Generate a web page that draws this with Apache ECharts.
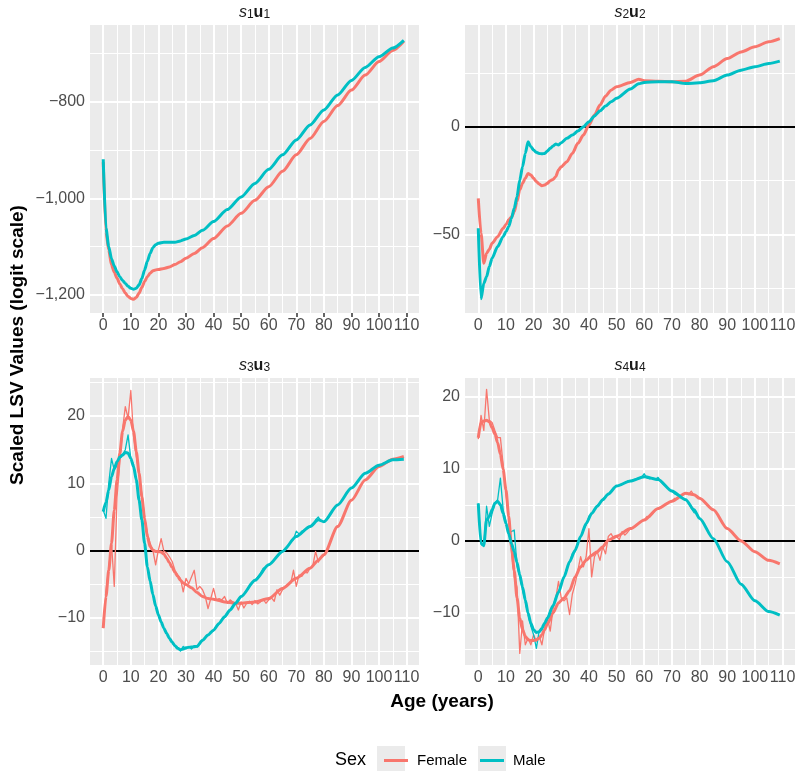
<!DOCTYPE html>
<html>
<head>
<meta charset="utf-8">
<script src="https://cdn.jsdelivr.net/npm/echarts@6/dist/echarts.min.js"></script>
<style>
html,body{margin:0;padding:0;background:#fff;}
#chart{width:800px;height:771px;}
</style>
</head>
<body>
<div id="chart"></div>
<script>
// ---------------- DATA ----------------
const xTicks = [0,10,20,30,40,50,60,70,80,90,100,110];
const sexes = ['Female','Male'];
const panelTitles = ['{s|s}{n|1}{u|u}{n|1}','{s|s}{n|2}{u|u}{n|2}','{s|s}{n|3}{u|u}{n|3}','{s|s}{n|4}{u|u}{n|4}'];

// Panel 1 (s1u1) smoothed curves
const p1Ages = [0,1,2,3,4,5,6,7,8,9,10,11,12,13,14,15,16,17,18,19,20,22,24,26,28,30,33,36,40,45,50,55,60,65,70,75,80,85,90,95,100,105,109];
const p1Female = [-925,-1070,-1107,-1138,-1153,-1165,-1177,-1187,-1196,-1203,-1207,-1209,-1205,-1196,-1184,-1172,-1162,-1155,-1150,-1148,-1147,-1145,-1142,-1137,-1131,-1124,-1114,-1102,-1083,-1057,-1031,-1004,-976,-944,-910,-876,-841,-808,-776,-745,-717,-694,-675];
const p1Male = [-919,-1062,-1100,-1125,-1140,-1152,-1162,-1170,-1176,-1182,-1186,-1188,-1186,-1179,-1166,-1148,-1130,-1114,-1102,-1096,-1093,-1091,-1091,-1091,-1088,-1084,-1077,-1066,-1048,-1023,-997,-969,-940,-910,-879,-848,-817,-786,-756,-729,-707,-689,-673];
const p1YTicks = [-1200,-1000,-800];

// Panel 2 (s2u2) smoothed curves
const p2Ages = [0,1,2,3,4,5,7,9,10,11,12,13,14,15,16,17,18,19,20,21,22,23,24,25,26,27,28,29,30,32,34,36,38,40,42,44,46,48,50,55,58,60,65,70,75,80,85,90,95,100,105,109];
const p2Female = [-33.3,-49.5,-63.5,-58.8,-57,-54.2,-51.1,-47.2,-45.5,-43.3,-42,-39.5,-34.8,-29.4,-26.3,-24,-21.7,-22.4,-24,-25.5,-26.6,-27.4,-27.1,-26.3,-25.1,-24.5,-23.2,-20.1,-18.6,-16.3,-12.4,-7.7,-3.9,0.8,5.4,10.1,14.2,17,18.6,20.6,22.1,21.4,21.2,20.9,21.2,24,27.9,31.7,34.8,37.2,39.5,41];
const p2Male = [-47.2,-80,-72.8,-69.7,-65,-61.1,-55.7,-51.1,-48.8,-46.4,-42.6,-37.9,-32.5,-24.8,-18.6,-12.4,-7,-9.3,-10.8,-11.9,-12.4,-12.6,-12.4,-11.3,-10,-9,-8,-8.5,-7.4,-5.4,-3.9,-2,0,2.3,5,7.4,9.6,11.6,13.2,17.5,20,20.6,20.9,20.9,20.1,20.4,21.4,24,26.3,27.9,29.4,30.5];
const p2YTicks = [-50,0];

// Panel 3 (s3u3) smoothed curves
const p3Ages = [0,1,2,3,4,5,6,7,8,9,10,11,12,13,14,15,16,17,18,19,20,21,22,23,24,25,26,27,28,29,30,32,34,36,38,40,42,44,46,48,50,55,60,65,70,75,78,80,85,90,95,100,105,109];
const p3Female = [-11.5,-6.8,-2.9,1.1,6,10.5,14.5,17.7,19.4,19.9,19.4,17.7,14.7,11.5,8,4.8,2.1,0.6,0.1,-0.1,-0.1,-0.2,-0.5,-1.1,-1.8,-2.5,-3.2,-3.8,-4.4,-4.8,-5,-5.5,-6.2,-6.8,-7.1,-7.2,-7.4,-7.6,-7.7,-7.8,-7.8,-7.6,-7.1,-5.6,-4.1,-2.6,-1.4,-0.6,3.6,7.5,10.5,12.5,13.6,14];
const p3Male = [5.8,7.2,9,11,12.2,13.2,13.9,14.2,14.6,14.5,13.7,12.5,10.5,7.5,4.6,1.1,-2.4,-4.5,-6.5,-8.2,-9.5,-10.6,-11.5,-12.3,-13,-13.6,-14.1,-14.5,-14.7,-14.6,-14.4,-14.3,-14.2,-13.3,-12.5,-11.8,-10.8,-9.8,-8.8,-7.8,-6.8,-4.4,-2.1,-0.1,2.1,3.6,4.6,4.3,6.8,9.3,11.5,12.7,13.5,13.6];
// Panel 3 raw yearly values, ages 0..80
const p3RawFemale = [-11.5,-6,-2.5,1.1,-5.3,8,13,18,21.4,19.7,23.8,17,14,11.5,8.5,5,2.6,1.1,0.1,-2.1,0.1,1.8,-0.1,-0.3,-0.9,-1.6,-2.9,-3.6,-4.1,-6.1,-4.1,-4.9,-3.9,-2.9,-5.8,-5.3,-5.8,-6.8,-8.6,-7.1,-5.6,-7.3,-7.1,-7.3,-6.8,-7.8,-7.3,-7.6,-7.8,-8.8,-7.6,-8.5,-7.8,-7.5,-8,-7.4,-7.9,-7.6,-7.2,-7.8,-7.3,-7,-7.5,-5.8,-6.6,-5.8,-5.4,-5,-4.8,-2.9,-5.3,-3.6,-3.8,-3.2,-3.3,-2.6,-2.2,-0.1,-1.7,-0.9,-0.7];
const p3RawMale = [6,4.8,10,13.7,12,12.7,13.7,14.2,15,17.2,13.7,12.8,10.3,7.6,4.4,1.3,-2.5,-4.4,-6.6,-8.1,-9.6,-10.5,-11.6,-12.2,-13.1,-13.5,-14.2,-14.4,-14.9,-14.2,-14.6,-14.2,-14.6,-14.1,-14.3,-13.7,-13.4,-12.9,-12.6,-12,-11.9,-11.2,-10.9,-10.2,-9.9,-9.3,-8.9,-8.3,-7.8,-7.3,-6.8,-6.4,-5.9,-5.3,-4.9,-4.4,-3.9,-3.4,-2.6,-2.4,-2.1,-1.7,-1.3,-0.9,-0.5,-0.1,0.4,0.8,1.3,1.7,2.9,2.5,2.9,3.1,3.3,3.5,3.9,4.6,5,4.4,4.3];
const p3YTicks = [-10,0,10,20];

// Panel 4 (s4u4) smoothed curves
const p4Ages = [0,1,2,3,4,5,6,7,8,9,10,11,12,13,14,15,16,17,18,19,20,21,22,23,24,25,27,29,31,33,35,37,39,41,43,45,47,50,55,60,65,70,75,78,80,85,90,95,100,105,109];
const p4Female = [14.3,16.4,16.6,16.7,16.5,15.7,14.8,13.6,12,9.9,7.1,3.4,-0.8,-4.1,-7.9,-10.7,-12.3,-13.2,-13.7,-13.8,-13.8,-13.7,-13.5,-13,-12.3,-11.5,-10,-8.6,-7.9,-6.9,-5,-3.6,-2.7,-2,-1.5,-0.8,0.1,0.65,1.7,2.9,4.5,5.5,6.6,6.4,5.9,4.3,1.7,0,-1.5,-2.7,-3.2];
const p4Male = [5.2,-0.4,-0.6,2.9,3.4,4.3,5.2,5.5,5,3.8,2.4,1,-0.4,-1.5,-3,-4.7,-6.4,-8.2,-10,-11.4,-12.3,-12.7,-12.6,-12.1,-11.4,-10.7,-9,-7.1,-5,-2.9,-1.3,0.6,2.4,3.8,4.8,5.7,6.5,7.6,8.3,8.9,8.5,6.9,5.7,4.3,3.1,0.3,-2.9,-6,-8.3,-9.8,-10.3];
// Panel 4 raw yearly values, ages 0..80
const p4RawFemale = [14.1,17.4,15.3,21,16.7,16.4,15.3,14.3,14.3,10.5,6.5,3,-1.5,-5,-6.4,-15.6,-11.1,-14.4,-13.5,-14.4,-13,-13.9,-13.2,-14.4,-12.1,-10.7,-12.5,-9.5,-8,-5.6,-7.9,-8.3,-7.9,-10.2,-7.4,-6,-4.1,-2.2,-3.6,-2.2,1.7,-5,-2.2,-1.5,-2.7,-0.8,-1.8,0.6,1,0.3,0.6,0.2,1.3,0.8,1.2,1.7,1.8,2.1,2.4,2.7,2.9,3.4,3.3,3.7,4.3,4.4,4.6,4.9,5.2,5.3,5.5,5.9,5.8,6.2,6.4,6.6,6.4,6.9,6.3,6.2,5.9];
const p4RawMale = [5.2,-0.4,-0.8,4.8,2,3.8,5.2,5.7,8.7,4.3,2.7,1,1.3,1.5,-3.5,-5,-6.8,-8.5,-10.2,-11.8,-13,-14.9,-12.5,-12.4,-11.3,-10.9,-9.6,-9.1,-7.8,-7.2,-5.9,-5.1,-3.8,-3,-1.8,-1.5,-0.2,0.5,1.5,2.2,3.4,3.7,4.3,4.9,5.2,5.8,6.1,6.4,6.8,7.4,7.6,7.7,7.9,8,8.3,8.3,8.5,8.6,8.7,8.8,9.3,8.7,8.6,8.7,8.5,8.8,8.2,7.8,7.5,7.2,6.9,6.5,6.3,6,5.9,5.7,5.3,4.5,3.9,3.8,3.1];
const p4YTicks = [-10,0,10,20];

// ---------------- LAYOUT / STYLE ----------------
const FONT = "'Liberation Sans', Arial, Helvetica, sans-serif";
const colors = {Female:'#F8766D', Male:'#00BFC4'};
const grids = [
  {left:90, top:25, width:329, height:288},
  {left:465, top:25, width:330, height:288},
  {left:90, top:378, width:329, height:287},
  {left:465, top:378, width:330, height:287}
];
const yRanges = [[-1237.2,-641.3],[-86.6,47.3],[-16.97,25.65],[-17.2,22.57]];
const yTickSets = [p1YTicks,p2YTicks,p3YTicks,p4YTicks];
const yMinorSets = [[-1100,-900,-700],[-75,-25,25],[-15,-5,5,15,25],[-15,-5,5,15]];
const xMinor = [5,15,25,35,45,55,65,75,85,95,105];
const zeroLine = [false,true,true,true];

const smoothSets = [
  [p1Ages,p1Female,p1Male],
  [p2Ages,p2Female,p2Male],
  [p3Ages,p3Female,p3Male],
  [p4Ages,p4Female,p4Male]
];
const rawSets = [null,null,[p3RawFemale,p3RawMale],[p4RawFemale,p4RawMale]];

function fmt(v){
  const s = Math.abs(v).toLocaleString('en-US');
  return (v<0?'\u2212':'') + s;
}
function pairs(ages, vals){ return ages.map((a,i)=>[a, vals[i]]); }
function yearly(vals){ return vals.map((v,i)=>[i, v]); }

const xAxes = [], yAxes = [], series = [];
grids.forEach((g,i)=>{
  xAxes.push({
    type:'value', gridIndex:i, min:-4.8, max:114.5,
    axisLine:{show:false}, splitLine:{show:false},
    axisTick:{show:true, customValues:xTicks, length:4, lineStyle:{color:'#333333', width:1.5}},
    axisLabel:{customValues:xTicks, color:'#4D4D4D', fontSize:16, fontFamily:FONT, margin:5}
  });
  yAxes.push({
    type:'value', gridIndex:i, min:yRanges[i][0], max:yRanges[i][1],
    axisLine:{show:false}, splitLine:{show:false},
    axisTick:{show:true, customValues:yTickSets[i], length:4, lineStyle:{color:'#333333', width:1.5}},
    axisLabel:{customValues:yTickSets[i], color:'#4D4D4D', fontSize:16, fontFamily:FONT, margin:5, formatter:fmt}
  });
  const minor = {color:'#FFFFFF', width:1, type:'solid'};
  const major = {color:'#FFFFFF', width:2, type:'solid'};
  const ml = [];
  yMinorSets[i].forEach(v=>ml.push({yAxis:v, lineStyle:minor}));
  xMinor.forEach(v=>ml.push({xAxis:v, lineStyle:minor}));
  yTickSets[i].forEach(v=>ml.push({yAxis:v, lineStyle:major}));
  xTicks.forEach(v=>ml.push({xAxis:v, lineStyle:major}));
  series.push({
    type:'line', name:'grid'+i, xAxisIndex:i, yAxisIndex:i, data:[], z:1, silent:true,
    markLine:{z:1, zlevel:0, silent:true, symbol:['none','none'], label:{show:false}, animation:false, data:ml}
  });
  if(zeroLine[i]){
    series.push({
      type:'line', name:'zero'+i, xAxisIndex:i, yAxisIndex:i, data:[], z:2, silent:true,
      markLine:{z:2, zlevel:0, silent:true, symbol:['none','none'], label:{show:false}, animation:false,
        data:[{yAxis:0, lineStyle:{color:'#000000', width:2, type:'solid'}}]}
    });
  }
  if(rawSets[i]){
    rawSets[i].forEach((vals,k)=>{
      series.push({
        type:'line', name:sexes[k]+' raw', xAxisIndex:i, yAxisIndex:i, data:yearly(vals),
        showSymbol:false, symbol:'none', z:3, silent:true,
        lineStyle:{color:colors[sexes[k]], width:1.3, join:'round'},
        itemStyle:{color:colors[sexes[k]]}
      });
    });
  }
  const [ages,f,m] = smoothSets[i];
  [f,m].forEach((vals,k)=>{
    series.push({
      type:'line', name:sexes[k], xAxisIndex:i, yAxisIndex:i, data:pairs(ages,vals),
      showSymbol:false, symbol:'none', z:4, silent:true, smooth:0.25, smoothMonotone:'x',
      lineStyle:{color:colors[sexes[k]], width:3, join:'round'},
      itemStyle:{color:colors[sexes[k]]}
    });
  });
});

const titleRich = {
  s:{fontStyle:'italic', fontSize:16, fontFamily:FONT, fill:'#1A1A1A', color:'#1A1A1A', verticalAlign:'bottom', lineHeight:19},
  u:{fontWeight:'bold', fontSize:16, fontFamily:FONT, fill:'#1A1A1A', color:'#1A1A1A', verticalAlign:'bottom', lineHeight:19},
  n:{fontSize:12, fontFamily:FONT, fill:'#1A1A1A', color:'#1A1A1A', verticalAlign:'bottom', lineHeight:12}
};
const graphics = [];
grids.forEach((g,i)=>{
  graphics.push({
    type:'text', x:g.left + g.width/2, y:g.top - 14, silent:true,
    style:{text:panelTitles[i], rich:titleRich, align:'center', textAlign:'center', verticalAlign:'middle', textVerticalAlign:'middle', fill:'#1A1A1A'}
  });
});
graphics.push({
  type:'text', x:18, y:345, rotation:Math.PI/2, silent:true,
  style:{text:'Scaled LSV Values (logit scale)', font:'bold 19px '+FONT, fill:'#000', align:'center', textAlign:'center', verticalAlign:'middle', textVerticalAlign:'middle'}
});
graphics.push({
  type:'text', x:442, y:702, silent:true,
  style:{text:'Age (years)', font:'bold 19px '+FONT, fill:'#000', align:'center', textAlign:'center', verticalAlign:'middle', textVerticalAlign:'middle'}
});
graphics.push({
  type:'text', x:335, y:760, silent:true,
  style:{text:'Sex', font:'18px '+FONT, fill:'#000', align:'left', textAlign:'left', verticalAlign:'middle', textVerticalAlign:'middle'}
});
graphics.push({type:'rect', shape:{x:377, y:746, width:28, height:28}, style:{fill:'#EBEBEB'}, silent:true, z:-1});
graphics.push({type:'rect', shape:{x:478, y:746, width:28, height:28}, style:{fill:'#EBEBEB'}, silent:true, z:-1});

const chart = echarts.init(document.getElementById('chart'), null, {renderer:'canvas'});
chart.setOption({
  animation:false,
  backgroundColor:'#FFFFFF',
  textStyle:{fontFamily:FONT},
  grid: grids.map(g=>Object.assign({show:true, backgroundColor:'#EBEBEB', borderWidth:0, containLabel:false}, g)),
  xAxis:xAxes,
  yAxis:yAxes,
  legend:{
    data:sexes, left:379, top:748, orient:'horizontal', icon:'rect',
    itemWidth:24, itemHeight:3, itemGap:13, selectedMode:false,
    textStyle:{fontSize:15, color:'#000', fontFamily:FONT, padding:[0,0,0,4]}
  },
  graphic:graphics,
  series:series
});
</script>
</body>
</html>
